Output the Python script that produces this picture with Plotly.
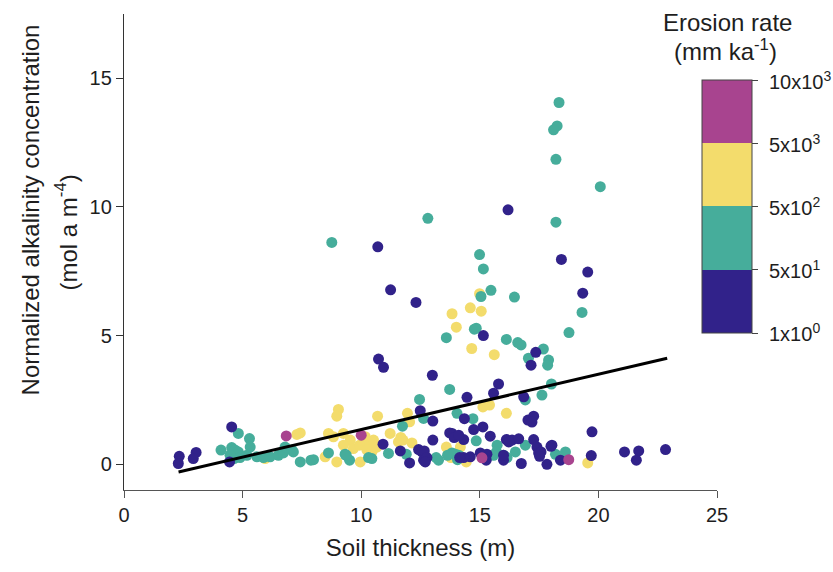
import plotly.graph_objects as go

# Soil thickness (m) and normalized alkalinity concentration (mol a m^-4),
# grouped by erosion-rate class.
thickness_low = [2.33, 2.29, 3.04, 2.92, 4.54, 4.45, 10.70, 16.19, 18.44, 19.55, 11.24, 12.31,
                 19.34, 15.15, 17.36, 17.16, 10.73, 10.94, 13.00, 15.79, 15.58, 14.46, 16.85,
                 14.35, 17.03, 17.27, 17.20, 14.74, 15.13, 13.83, 14.32, 15.44, 16.12, 16.36,
                 16.64, 17.27, 17.41, 17.48, 18.00, 19.73, 19.70, 18.40, 17.83, 16.75, 15.30,
                 15.27, 16.00, 14.60, 14.32, 12.49, 13.02, 10.92, 11.65, 12.04, 12.42, 12.56,
                 12.66, 12.63, 12.77, 13.02, 13.73, 13.92, 14.11, 14.15, 16.22, 16.00, 17.58,
                 17.52, 18.04, 21.10, 21.70, 21.60, 22.83, 15.02, 12.70]
alkalinity_low = [0.31, 0.03, 0.46, 0.22, 1.45, 0.09, 8.45, 9.89, 7.96, 7.47, 6.78, 6.29,
                  6.65, 5.00, 4.35, 3.85, 4.09, 3.77, 3.46, 3.12, 2.76, 2.60, 2.62,
                  1.77, 1.72, 1.87, 1.64, 1.35, 1.45, 1.20, 0.96, 1.09, 0.96, 0.94,
                  0.99, 0.96, 0.67, 0.44, 0.70, 1.26, 0.34, 0.16, 0.00, 0.03, 0.39,
                  0.16, 0.16, 0.29, 0.26, 2.08, 1.68, 0.78, 0.52, 0.05, 0.57, 0.48,
                  0.52, 0.16, 0.26, 0.94, 1.22, 1.04, 1.13, 0.26, 0.87, 0.35, 0.48,
                  0.31, 0.74, 0.48, 0.52, 0.16, 0.57, 0.44, 0.09]

thickness_mid = [18.34, 18.26, 18.11, 18.21, 20.08, 12.81, 18.21, 8.76, 14.99, 15.15, 15.05,
                 15.47, 16.46, 19.31, 14.77, 14.85, 13.59, 18.76, 16.12, 16.60, 16.74, 17.68,
                 17.05, 17.90, 17.86, 13.73, 18.02, 17.62, 16.92, 14.04, 14.71, 14.85, 16.92,
                 18.61, 18.19, 15.73, 15.70, 15.58, 16.00, 16.15, 14.11, 12.46, 12.63, 11.74,
                 10.45, 11.15, 11.90, 13.16, 13.26, 13.83, 13.97, 14.06, 16.50, 13.64,
                 4.82, 5.29, 5.32, 4.09, 4.54, 4.68, 4.82, 4.47, 4.64, 4.89, 5.18, 5.60,
                 5.88, 6.16, 6.51, 6.72, 7.14, 6.79, 7.08, 7.43, 7.88, 7.99, 8.62, 9.32,
                 9.51, 9.37, 10.31]
alkalinity_mid = [14.06, 13.15, 13.00, 11.85, 10.79, 9.56, 9.41, 8.62, 8.15, 7.59, 6.52,
                  6.76, 6.50, 5.90, 5.25, 5.29, 4.92, 5.12, 4.85, 4.73, 4.64, 4.48,
                  4.12, 4.05, 3.85, 2.91, 3.12, 2.69, 2.50, 1.98, 1.77, 0.91, 0.74,
                  0.48, 0.39, 0.74, 0.48, 0.35, 0.35, 0.26, 0.35, 2.52, 1.78, 1.48,
                  0.22, 0.42, 0.39, 0.26, 0.16, 0.44, 0.39, 0.18, 0.48, 0.35,
                  1.20, 1.00, 0.67, 0.55, 0.65, 0.55, 0.48, 0.35, 0.22, 0.26, 0.35, 0.29,
                  0.26, 0.29, 0.35, 0.44, 0.48, 0.67, 0.55, 0.09, 0.16, 0.18, 0.44, 0.39,
                  0.16, 0.35, 0.26]

thickness_high = [14.99, 13.83, 14.60, 15.06, 14.01, 14.66, 15.61, 15.13, 15.41, 16.12, 19.55,
                  14.43, 10.69, 11.95, 12.04, 11.22, 11.57, 11.67, 11.76, 12.14, 10.52, 13.59,
                  14.18, 13.78, 9.04, 8.97, 8.62, 8.83, 8.97, 9.96, 9.25, 9.54, 10.17, 10.31,
                  10.52, 9.25, 9.67, 9.93, 10.24, 10.45, 10.66, 8.48, 7.29, 7.43, 5.95]
alkalinity_high = [6.63, 5.85, 6.08, 5.95, 5.33, 4.50, 4.26, 2.23, 2.30, 1.98, 0.05,
                   0.09, 1.87, 1.98, 1.65, 1.20, 0.87, 1.04, 0.94, 0.83, 0.61, 0.67,
                   0.67, 0.26, 2.13, 1.87, 1.20, 1.07, 0.09, 0.09, 1.20, 0.94, 1.07, 0.87,
                   0.94, 0.74, 0.61, 0.74, 0.55, 0.48, 0.67, 0.29, 1.16, 1.22, 0.22]

thickness_top = [6.84, 10.00, 15.09, 18.75]
alkalinity_top = [1.10, 1.13, 0.25, 0.18]

# Linear fit drawn across the data range
fit_x = [2.3, 22.9]
fit_y = [-0.30, 4.12]

# Erosion-rate classes (mm ka^-1): class boundaries and their labels
class_bounds = [0, 1, 2, 3, 4]
class_labels = ["1x10<sup>0</sup>", "5x10<sup>1</sup>", "5x10<sup>2</sup>",
                "5x10<sup>3</sup>", "10x10<sup>3</sup>"]
class_colors = ["#31228a", "#46ad9b", "#f3dc6c", "#a8448f"]

colorscale = []
for i, c in enumerate(class_colors):
    colorscale.append([i / 4, c])
    colorscale.append([(i + 1) / 4, c])

fig = go.Figure()

groups = [
    (thickness_high, alkalinity_high, 2.5),
    (thickness_mid, alkalinity_mid, 1.5),
    (thickness_low, alkalinity_low, 0.5),
    (thickness_top, alkalinity_top, 3.5),
]
for xs, ys, level in groups:
    fig.add_trace(go.Scatter(
        x=xs, y=ys, mode="markers",
        marker=dict(size=11, color=[level] * len(xs), coloraxis="coloraxis",
                    line=dict(width=0)),
        showlegend=False, hoverinfo="x+y",
    ))

fig.add_trace(go.Scatter(
    x=fit_x, y=fit_y, mode="lines",
    line=dict(color="black", width=3),
    showlegend=False, hoverinfo="skip",
))

font_family = "Liberation Sans, Arial, sans-serif"
text_color = "#1e1e1e"

# Colour bar geometry in paper units (bar bottom/top)
bar_y0, bar_y1 = 0.330, 0.861

annotations = [
    dict(text="Normalized alkalinity concentration", xref="paper", yref="paper",
         x=-0.158, y=0.588, xanchor="center", yanchor="middle", textangle=-90,
         showarrow=False, font=dict(size=24)),
    dict(text="(mol a m<sup>-4</sup>)", xref="paper", yref="paper",
         x=-0.097, y=0.542, xanchor="center", yanchor="middle", textangle=-90,
         showarrow=False, font=dict(size=24)),
    dict(text="Erosion rate", xref="paper", yref="paper",
         x=1.017, y=0.983, xanchor="center", yanchor="middle",
         showarrow=False, font=dict(size=24)),
    dict(text="(mm ka<sup>-1</sup>)", xref="paper", yref="paper",
         x=1.014, y=0.924, xanchor="center", yanchor="middle",
         showarrow=False, font=dict(size=24)),
]
# Colour bar tick labels
for b, lab in zip(class_bounds, class_labels):
    annotations.append(dict(
        text=lab, xref="paper", yref="paper",
        x=1.086, y=bar_y0 + (bar_y1 - bar_y0) * b / 4,
        xanchor="left", yanchor="middle", showarrow=False,
        font=dict(size=20), borderpad=0,
    ))

fig.update_layout(
    width=833, height=572,
    margin=dict(l=124, r=116, t=14, b=82),
    paper_bgcolor="white", plot_bgcolor="white",
    font=dict(family=font_family, color=text_color, size=20),
    coloraxis=dict(
        colorscale=colorscale, cmin=0, cmax=4,
        colorbar=dict(
            x=0.975, xanchor="left", y=(bar_y0 + bar_y1) / 2, yanchor="middle",
            thickness=50, thicknessmode="pixels",
            len=bar_y1 - bar_y0, lenmode="fraction",
            xpad=0, ypad=0,
            outlinewidth=1, outlinecolor="#444444",
            tickmode="array", tickvals=class_bounds, showticklabels=False,
            ticks="outside", ticklen=6, tickcolor="#444444",
        ),
    ),
    xaxis=dict(
        range=[0, 25], tickvals=[0, 5, 10, 15, 20, 25],
        showgrid=False, zeroline=False,
        showline=True, linecolor="#555555", linewidth=1.3,
        ticks="outside", ticklen=7, tickcolor="#555555",
        tickfont=dict(size=20),
        title=dict(text="Soil thickness (m)", font=dict(size=24), standoff=14),
    ),
    yaxis=dict(
        range=[-1, 17.5], tickvals=[0, 5, 10, 15],
        showgrid=False, zeroline=False,
        showline=True, linecolor="#333333", linewidth=1.3,
        ticks="outside", ticklen=7, tickcolor="#333333",
        tickfont=dict(size=20),
    ),
    annotations=annotations,
)

fig.write_html("out.html")
